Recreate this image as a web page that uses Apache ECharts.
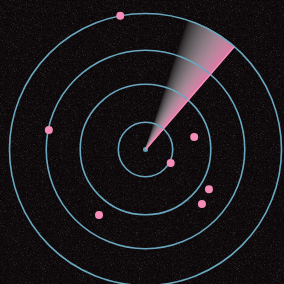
<!DOCTYPE html>
<html>
	<head>
		<meta charset="utf-8">
		<title>radar</title>
		<script src="https://cdn.jsdelivr.net/npm/echarts@6/dist/echarts.min.js" type="text/javascript" charset="utf-8"></script>
		<style>
			html,body{margin:0;padding:0;background:#0c090a;}
			#chart{width:284px;height:284px;}
		</style>
	</head>
	<body>
		<div id="chart"></div>
		<script type="text/javascript">
			// 雷达圈 (半径值, 外圈=100)
			var ringValues = [20, 48, 73, 100];
			// 目标点 [半径, 角度]
			var targetRadius = [100, 72.5, 37, 21, 55, 57.7, 59];
			var targetAngle = [100.7, 168.6, 14.5, 332, 328, 316, 234.6];
			// 扫描扇区 [半径, 前沿角度, 尾部角度]
			var sweepRadius = 100;
			var sweepLead = 49.2;
			var sweepTail = 72;

			var targets = [];
			for (var i = 0; i < targetRadius.length; i++) {
				targets.push([targetRadius[i], targetAngle[i]]);
			}

			// 背景噪点 (固定哈希, 不随机)
			function makeNoise(){
				var c = document.createElement('canvas'), s = 97;
				c.width = s; c.height = s;
				var ctx = c.getContext('2d'), img = ctx.createImageData(s, s);
				for (var y = 0; y < s; y++) {
					for (var x = 0; x < s; x++) {
						var h = Math.sin(x * 12.9898 + y * 78.233) * 43758.5453;
						h = h - Math.floor(h);
						var k = (y * s + x) * 4, v = 5 + h * 13;
						if (h > 0.97) v = 34;
						img.data[k] = v + 4; img.data[k + 1] = v; img.data[k + 2] = v + 2; img.data[k + 3] = 255;
					}
				}
				ctx.putImageData(img, 0, 0);
				return c;
			}

			// 与背景叠色后的不透明颜色
			function blend(a, b, t, al, bg){
				return Math.round(bg * (1 - al) + (a + (b - a) * t) * al);
			}

			var myChart = echarts.init(document.getElementById('chart'));
			var option = {
				backgroundColor: {image: makeNoise(), repeat: 'repeat'},
				animation: false,
				polar: {center: [145.5, 149.5], radius: 136},
				angleAxis: {
					type: 'value', min: 0, max: 360, startAngle: 0, clockwise: false,
					show: false
				},
				radiusAxis: {type: 'value', min: 0, max: 100, show: false},
				series: [{
					// 扫描扇区, 切成细片做渐变
					type: 'custom',
					coordinateSystem: 'polar',
					silent: true,
					data: [[sweepRadius, sweepLead, sweepTail]],
					renderItem: function(params, api){
						var c = api.coord([0, 0]), p = api.coord([api.value(0), 0]);
						var r = Math.sqrt((p[0] - c[0]) * (p[0] - c[0]) + (p[1] - c[1]) * (p[1] - c[1]));
						var a0 = api.value(1), a1 = api.value(2), n = 60, kids = [];
						// 从尾部画到前沿
						for (var j = n - 1; j >= 0; j--) {
							var t = 1 - (j + 0.5) / n; // 1 = 前沿
							var s1 = a0 + (a1 - a0) * j / n, s2 = a0 + (a1 - a0) * (j + 1) / n;
							var q = t * t, al = 0.95 * Math.pow(t, 0.6);
							var col = 'rgb(' + blend(225, 240, q, al, 14) + ',' + blend(222, 132, q, al, 10) + ',' + blend(226, 178, q, al, 12) + ')';
							kids.push({
								type: 'sector',
								shape: {cx: c[0], cy: c[1], r0: 0, r: r, startAngle: -s2 * Math.PI / 180, endAngle: -s1 * Math.PI / 180, clockwise: true},
								style: {fill: col, stroke: col, lineWidth: 0.6}
							});
						}
						return {type: 'group', children: kids};
					}
				},{
					// 圆圈
					type: 'custom',
					coordinateSystem: 'polar',
					silent: true,
					data: ringValues.map(function(v){ return [v, 0]; }),
					renderItem: function(params, api){
						var c = api.coord([0, 0]), p = api.coord([api.value(0), 0]);
						var r = Math.sqrt((p[0] - c[0]) * (p[0] - c[0]) + (p[1] - c[1]) * (p[1] - c[1]));
						return {
							type: 'circle',
							shape: {cx: c[0], cy: c[1], r: r},
							style: {fill: 'none', stroke: '#6aa7be', lineWidth: 1.6}
						};
					}
				},{
					// 扫描前沿
					type: 'line',
					coordinateSystem: 'polar',
					silent: true,
					symbol: 'none',
					data: [[0, sweepLead], [sweepRadius, sweepLead]],
					lineStyle: {color: '#f28cb8', width: 1.6}
				},{
					type: 'scatter',
					coordinateSystem: 'polar',
					silent: true,
					symbolSize: 8,
					itemStyle: {color: '#f48db8', opacity: 1},
					data: targets
				},{
					type: 'scatter',
					coordinateSystem: 'polar',
					silent: true,
					symbolSize: 5,
					itemStyle: {color: '#609fb4', opacity: 1},
					data: [[0, 0]]
				}]
			};
			myChart.setOption(option);
		</script>
	</body>
</html>
